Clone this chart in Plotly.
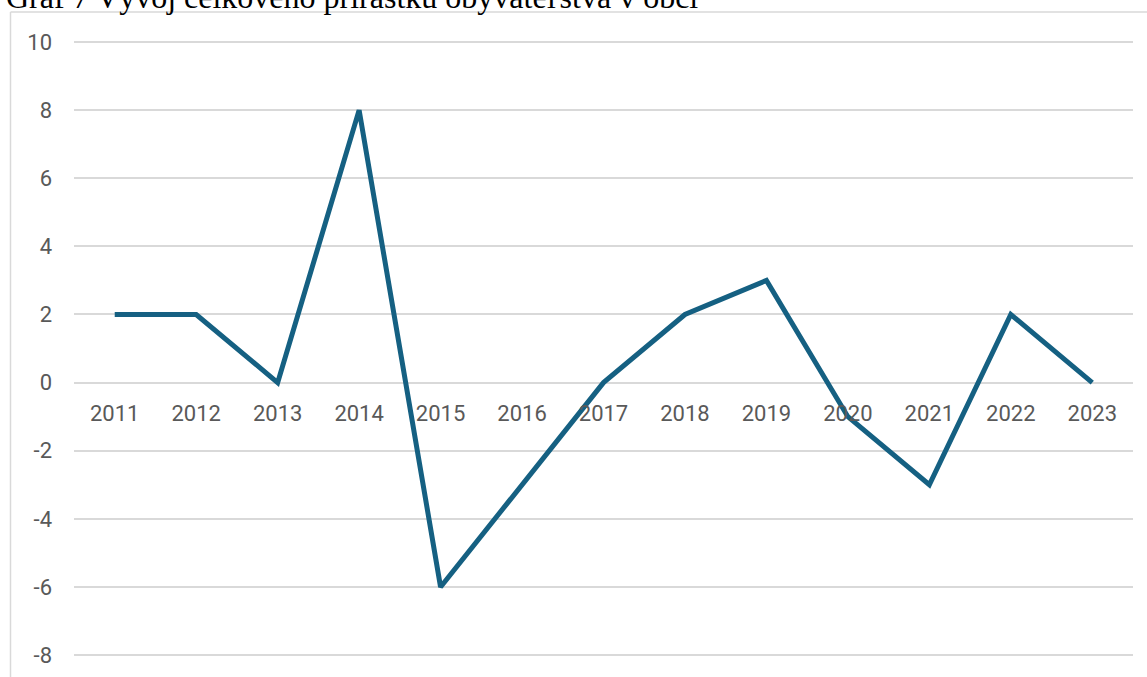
import plotly.graph_objects as go

years = ["2011", "2012", "2013", "2014", "2015", "2016", "2017",
         "2018", "2019", "2020", "2021", "2022", "2023"]
growth = [2, 2, 0, 8, -6, -3, 0, 2, 3, -1, -3, 2, 0]
y_ticks = [10, 8, 6, 4, 2, 0, -2, -4, -6, -8]
y_tick_labels = [str(v) for v in y_ticks]
title_text = "Graf 7 Vývoj celkového prírastku obyvateľstva v obci"

W, H = 1147, 677
L, R, T, B = 74, 14, 40, 0
plot_w = W - L - R
plot_h = H - T - B
px_per_unit = 34.06
y_top = 10 + 2 / px_per_unit
y_bot = y_top - plot_h / px_per_unit


def px_x(p):
    return (p - L) / plot_w


def px_y(p):
    return (H - B - p) / plot_h


fig = go.Figure()
fig.add_trace(go.Scatter(
    x=years, y=growth, mode="lines",
    line=dict(color="#156082", width=5),
    hoverinfo="skip", showlegend=False,
))

zero_pos = (0 - y_bot) / (y_top - y_bot)

tick_font = dict(family="Roboto, Arial, sans-serif", size=22, color="#595959")

fig.update_layout(
    width=W, height=H,
    margin=dict(l=L, r=R, t=T, b=B),
    paper_bgcolor="white", plot_bgcolor="white",
    xaxis=dict(
        type="category", range=[-0.5, 12.5],
        anchor="free", position=zero_pos,
        showgrid=False, showline=False, zeroline=False,
        ticks="", tickfont=tick_font, ticklabelstandoff=15,
    ),
    yaxis=dict(
        range=[y_bot, y_top], tickvals=y_ticks, ticktext=y_tick_labels,
        showgrid=True, gridcolor="#d9d9d9", gridwidth=1.5,
        zeroline=True, zerolinecolor="#d9d9d9", zerolinewidth=1.5,
        showline=False, ticks="", tickfont=tick_font, ticklabelstandoff=21,
    ),
    shapes=[
        dict(type="line", xref="paper", yref="paper",
             x0=px_x(10.5), x1=px_x(10.5), y0=px_y(H + 5), y1=px_y(12),
             line=dict(color="#d9d9d9", width=1.5)),
        dict(type="line", xref="paper", yref="paper",
             x0=px_x(10.5), x1=px_x(W + 5), y0=px_y(12), y1=px_y(12),
             line=dict(color="#d9d9d9", width=1.5)),
    ],
    annotations=[
        dict(text=title_text, xref="paper", yref="paper",
             x=px_x(4), y=px_y(17), xanchor="left", yanchor="bottom",
             showarrow=False,
             font=dict(family="Liberation Serif, Times New Roman, serif", size=32, color="black")),
    ],
)

fig.write_html("out.html", config={"displayModeBar": False},
               post_script="document.body.style.margin='0';")
